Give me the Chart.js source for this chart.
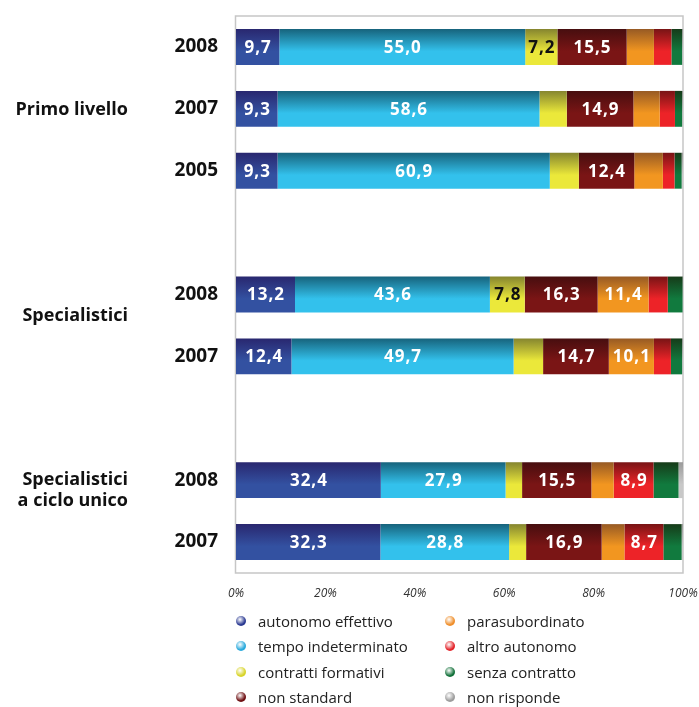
<!DOCTYPE html>
<html>
<head>
<meta charset="utf-8">
<script src="https://cdn.jsdelivr.net/npm/chart.js@4.4.1/dist/chart.umd.min.js"></script>
<style>
  html, body { margin:0; padding:0; background:#fff; }
  #wrap { position:relative; width:699px; height:707px; }
  #legend { position:absolute; left:236px; top:609px; width:460px; font-family:"Open Sans", sans-serif; font-size:15px; color:#222; }
  .col { position:absolute; top:0; }
  .item { height:25.3px; line-height:25.3px; white-space:nowrap; }
  .dot { display:inline-block; width:10px; height:10px; border-radius:50%; margin-right:12px; vertical-align:middle; position:relative; top:-2px; }
</style>
</head>
<body>
<div id="wrap">
  <canvas id="chart" width="699" height="707"></canvas>
  <div id="legend"></div>
</div>
<script>
// categories (empty strings are the gaps between groups)
var years  = ['2008', '2007', '2005', '', '2008', '2007', '', '2008', '2007'];
var groups = ['Primo livello', 'Specialistici', 'Specialistici\na ciclo unico'];

// series values (%)
var autonomo    = [9.7, 9.3, 9.3, null, 13.2, 12.4, null, 32.4, 32.3];
var tempoInd    = [55.0, 58.6, 60.9, null, 43.6, 49.7, null, 27.9, 28.8];
var formativi   = [7.2, 6.1, 6.5, null, 7.8, 6.6, null, 3.7, 3.8];
var nonStandard = [15.5, 14.9, 12.4, null, 16.3, 14.7, null, 15.5, 16.9];
var parasub     = [6.1, 5.9, 6.4, null, 11.4, 10.1, null, 5.0, 5.1];
var altroAut    = [3.9, 3.4, 2.6, null, 4.3, 3.8, null, 8.9, 8.7];
var senza       = [2.4, 1.6, 1.6, null, 3.3, 2.5, null, 5.6, 4.1];
var nonRisp     = [0.2, 0.2, 0.3, null, 0.1, 0.2, null, 1.0, 0.3];

var xTicks = [0, 20, 40, 60, 80, 100];

var series = [
  { name:'autonomo effettivo',  data:autonomo,    top:'#29276f', bot:'#3351a1', dot:'#2b3a92', txt:'#fff' },
  { name:'tempo indeterminato', data:tempoInd,    top:'#17637c', bot:'#33c1ec', dot:'#29a9dc', txt:'#fff' },
  { name:'contratti formativi', data:formativi,   top:'#85852f', bot:'#ebe83a', dot:'#d8d42a', txt:'#111' },
  { name:'non standard',        data:nonStandard, top:'#470e0f', bot:'#7a1515', dot:'#6e1012', txt:'#fff' },
  { name:'parasubordinato',     data:parasub,     top:'#975a24', bot:'#f29620', dot:'#ef8f2c', txt:'#fff' },
  { name:'altro autonomo',      data:altroAut,    top:'#781415', bot:'#ed2328', dot:'#e3242a', txt:'#fff' },
  { name:'senza contratto',     data:senza,       top:'#163b19', bot:'#117a3e', dot:'#13713a', txt:'#fff' },
  { name:'non risponde',        data:nonRisp,     top:'#9a9a9a', bot:'#c8c8c8', dot:'#9c9c9c', txt:'#fff' }
];

var BAR = 0.58;

function grad(top, bot) {
    return function (c) {
        var ch = c.chart, y = ch.scales && ch.scales.y;
        if (!y || c.type !== 'data') return bot;
        var mid  = y.getPixelForValue(c.dataIndex);
        var half = Math.abs(y.getPixelForValue(1) - y.getPixelForValue(0)) * BAR / 2;
        if (!isFinite(mid) || !isFinite(half) || half <= 0) return bot;
        var g = ch.ctx.createLinearGradient(0, mid - half, 0, mid + half);
        g.addColorStop(0, top);
        g.addColorStop(0.62, bot);
        g.addColorStop(1, bot);
        return g;
    };
}

function fmt(v) { return v.toFixed(1).replace('.', ','); }

// frame around the plot area, drawn under the bars
var framePlugin = {
    id: 'frame',
    beforeDatasetsDraw: function (chart) {
        var a = chart.chartArea, ctx = chart.ctx;
        ctx.save();
        ctx.strokeStyle = '#c6c6c6';
        ctx.lineWidth = 1.5;
        ctx.strokeRect(a.left - 0.5, a.top, a.right - a.left + 0.5, a.bottom - a.top);
        ctx.restore();
    }
};

// value labels inside the segments
var valuePlugin = {
    id: 'values',
    afterDatasetsDraw: function (chart) {
        var ctx = chart.ctx;
        ctx.save();
        ctx.font = 'bold 17px "Open Sans", sans-serif';
        ctx.letterSpacing = '1px';
        ctx.textAlign = 'center';
        ctx.textBaseline = 'middle';
        chart.data.datasets.forEach(function (ds, di) {
            chart.getDatasetMeta(di).data.forEach(function (el, i) {
                var v = ds.data[i];
                if (v == null || v < 7) return;
                ctx.fillStyle = series[di].txt;
                ctx.fillText(fmt(v), (el.x + el.base) / 2 + 0.5, el.y + 1);
            });
        });
        ctx.restore();
    }
};

// group names left of the years
var groupPlugin = {
    id: 'groups',
    afterDraw: function (chart) {
        var y = chart.scales.y, ctx = chart.ctx;
        var pos = [
            y.getPixelForValue(1) + 1,
            (y.getPixelForValue(4) + y.getPixelForValue(5)) / 2 - 10,
            y.getPixelForValue(7)
        ];
        ctx.save();
        ctx.font = 'bold 18px "Open Sans", sans-serif';
        ctx.fillStyle = '#111';
        ctx.textAlign = 'right';
        ctx.textBaseline = 'middle';
        groups.forEach(function (g, k) {
            g.split('\n').forEach(function (line, j) {
                ctx.fillText(line, 128, pos[k] + j * 21);
            });
        });
        ctx.restore();
    }
};

new Chart(document.getElementById('chart'), {
    type: 'bar',
    data: {
        labels: years,
        datasets: series.map(function (s) {
            return { label: s.name, data: s.data, backgroundColor: grad(s.top, s.bot),
                     borderWidth: 0, categoryPercentage: BAR, barPercentage: 1 };
        })
    },
    options: {
        indexAxis: 'y',
        responsive: false,
        animation: false,
        events: [],
        layout: { padding: { top: 16, right: 16, left: 0, bottom: 0 } },
        plugins: { legend: { display: false }, tooltip: { enabled: false } },
        scales: {
            x: {
                stacked: true, min: 0, max: 100,
                afterBuildTicks: function (s) { s.ticks = xTicks.map(function (v) { return { value: v }; }); },
                afterFit: function (s) { s.height = 134; s.paddingLeft = 0; s.paddingRight = 0; },
                grid: { display: false, drawTicks: false },
                border: { display: false },
                ticks: { padding: 13, color: '#333', maxRotation: 0,
                         font: { family: '"Open Sans", sans-serif', size: 12, style: 'italic' },
                         callback: function (v) { return v + '%'; } }
            },
            y: {
                stacked: true,
                afterFit: function (s) { s.width = 236; s.paddingTop = 0; s.paddingBottom = 0; },
                grid: { display: false, drawTicks: false },
                border: { display: false },
                ticks: { padding: 18, color: '#111', autoSkip: false,
                         font: { family: '"Open Sans", sans-serif', size: 19, weight: 'bold' } }
            }
        }
    },
    plugins: [framePlugin, valuePlugin, groupPlugin]
});

// legend in two columns
var legend = document.getElementById('legend');
[series.slice(0, 4), series.slice(4)].forEach(function (col, k) {
    var div = document.createElement('div');
    div.className = 'col';
    div.style.left = (k === 0 ? 0 : 209) + 'px';
    col.forEach(function (s) {
        var it = document.createElement('div');
        it.className = 'item';
        var d = document.createElement('span');
        d.className = 'dot';
        d.style.background = 'radial-gradient(circle at 40% 35%, rgba(255,255,255,0.45), ' + s.dot + ' 60%)';
        it.appendChild(d);
        it.appendChild(document.createTextNode(s.name));
        div.appendChild(it);
    });
    legend.appendChild(div);
});
</script>
</body>
</html>
